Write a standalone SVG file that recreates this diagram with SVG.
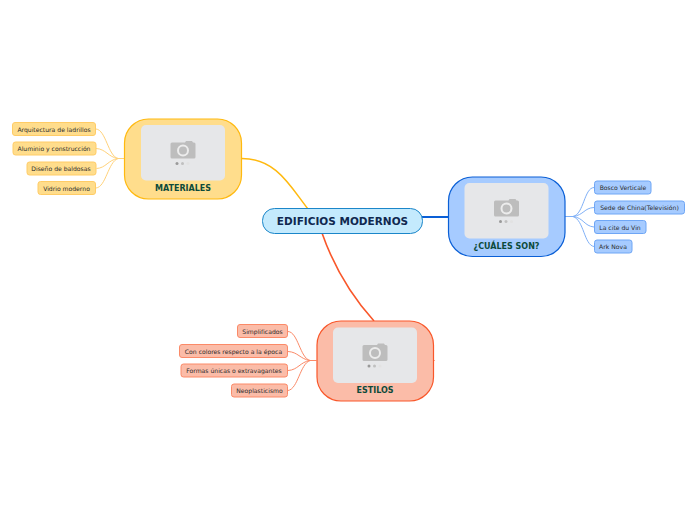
<svg xmlns="http://www.w3.org/2000/svg" width="696" height="520" viewBox="0 0 696 520">
<style>
text{font-family:"DejaVu Sans",Verdana,sans-serif}
.leaf{font-size:6.1px;fill:#2b2b2b;text-anchor:middle}
.title{font-size:8px;font-weight:700;fill:#0d4a3a;text-anchor:middle}
.c{fill:none}
.y{fill:#ffdd8c;stroke:#ffb90f;stroke-width:1.200}
.b{fill:#a6cbff;stroke:#0a5fd6;stroke-width:1.200}
.r{fill:#fbbca8;stroke:#f9572a;stroke-width:1.200}
.ly{fill:#ffdd8c;stroke:#ffcc66}
.lb{fill:#a6cbff;stroke:#6fa6f5}
.lr{fill:#fbbca8;stroke:#fb8a68}
</style>
<defs>
<g id="ph">
<rect x="0" y="0" width="84" height="55.500" rx="5" fill="#e6e7e9"/>
<path d="M31 17.500h13l1-1.500h6l1 1.500h1q1.500 0 1.500 1.500v13q0 1.500-1.500 1.500h-22q-1.500 0-1.500-1.500v-13q0-1.500 1.500-1.500z" fill="#bdbdbd"/>
<circle cx="42" cy="25.500" r="5" fill="none" stroke="#ececec" stroke-width="2"/>
<circle cx="36" cy="38.500" r="1.500" fill="#9a9a9a"/>
<circle cx="41.500" cy="38.500" r="1.500" fill="#c0c0c0"/>
<circle cx="47" cy="38.500" r="1.500" fill="#e2e2e2"/>
</g>
</defs>
<g id="connectors" class="c">
<path d="M241 158.500C276 158 290 186 308 209" stroke="#ffb90f" stroke-width="1.500" fill="none"/>
<path d="M422 217H448" stroke="#0a5fd6" stroke-width="2" fill="none"/>
<path d="M322 233C335 270 355 300 374 321" stroke="#f9572a" stroke-width="1.600" fill="none"/>
<path d="M433 360.500h1.500" stroke="#f9572a" stroke-width="1" fill="none"/>
<g stroke="#ffd27a" stroke-width="1" fill="none">
<path d="M124.500 158.500H118"/>
<path d="M118 158.500C108 156 106 130 96 129"/>
<path d="M118 158.500C108 157 106 149 96 148.500"/>
<path d="M118 158.500C108 160 106 168 96.500 168.500"/>
<path d="M118 158.500C108 162 106 187 96 188"/>
</g>
<g stroke="#7fb0f7" stroke-width="1" fill="none">
<path d="M565 216.500H573"/>
<path d="M573 216.500C584 214 584 188 594 187.500"/>
<path d="M573 216.500C584 215 584 208 594 207.500"/>
<path d="M573 216.500C584 218 584 226 594 227"/>
<path d="M573 216.500C584 220 584 245 594 246.500"/>
</g>
<g stroke="#fb8a68" stroke-width="1" fill="none">
<path d="M316.500 360.500H310"/>
<path d="M310 360.500C300 358 298 332 288 331.500"/>
<path d="M310 360.500C300 359 298 352 288 351.500"/>
<path d="M310 360.500C300 362 298 370 288 370.500"/>
<path d="M310 360.500C300 364 298 389 288 390.500"/>
</g>
</g>
<g id="central">
<rect x="262.500" y="208.500" width="160" height="25" rx="12" fill="#c4eafd" stroke="#1b86c9" stroke-width="1"/>
<text x="342.500" y="225" font-size="10.500" font-weight="700" fill="#10284f" text-anchor="middle">EDIFICIOS MODERNOS</text>
</g>
<g id="materiales">
<rect class="y" x="124.500" y="119" width="117" height="80" rx="24"/>
<use href="#ph" x="141" y="125"/>
<text class="title" x="183" y="191">MATERIALES</text>
</g>
<g id="cuales">
<rect class="b" x="448.500" y="177" width="116.500" height="79.500" rx="24"/>
<use href="#ph" x="464.500" y="183"/>
<text class="title" x="506.500" y="249">¿CUÁLES SON?</text>
</g>
<g id="estilos">
<rect class="r" x="317" y="321" width="116.500" height="80" rx="24"/>
<use href="#ph" x="333" y="327.500"/>
<text class="title" x="375" y="393">ESTILOS</text>
</g>
<g id="m1"><rect class="ly" x="12.500" y="122.500" width="83" height="13" rx="2.500"/><text class="leaf" x="54" y="131.500">Arquitectura de ladrillos</text></g>
<g id="m2"><rect class="ly" x="13" y="142" width="83" height="13" rx="2.500"/><text class="leaf" x="54" y="151">Aluminio y construcción</text></g>
<g id="m3"><rect class="ly" x="27" y="162" width="69" height="13" rx="2.500"/><text class="leaf" x="61" y="171">Diseño de baldosas</text></g>
<g id="m4"><rect class="ly" x="38" y="181.500" width="57.500" height="13" rx="2.500"/><text class="leaf" x="66.500" y="190.500">Vidrio moderno</text></g>
<g id="c1"><rect class="lb" x="594.500" y="181" width="56.500" height="13" rx="2.500"/><text class="leaf" x="623" y="190">Bosco Verticale</text></g>
<g id="c2"><rect class="lb" x="594.500" y="201" width="90" height="13" rx="2.500"/><text class="leaf" x="639.500" y="210">Sede de China(Televisión)</text></g>
<g id="c3"><rect class="lb" x="594.500" y="220.500" width="51.500" height="13" rx="2.500"/><text class="leaf" x="620" y="229.500">La cite du Vin</text></g>
<g id="c4"><rect class="lb" x="594.500" y="240" width="37.500" height="13" rx="2.500"/><text class="leaf" x="613" y="249">Ark Nova</text></g>
<g id="e1"><rect class="lr" x="237.500" y="324.500" width="50" height="13" rx="2.500"/><text class="leaf" x="262.500" y="333.500">Simplificados</text></g>
<g id="e2"><rect class="lr" x="179.500" y="344.500" width="108" height="13" rx="2.500"/><text class="leaf" x="233.500" y="353.500">Con colores respecto a la época</text></g>
<g id="e3"><rect class="lr" x="181" y="364" width="106.500" height="13" rx="2.500"/><text class="leaf" x="234" y="373">Formas únicas o extravagantes</text></g>
<g id="e4"><rect class="lr" x="231.500" y="384" width="56" height="13" rx="2.500"/><text class="leaf" x="259.500" y="393">Neoplasticismo</text></g>
</svg>
